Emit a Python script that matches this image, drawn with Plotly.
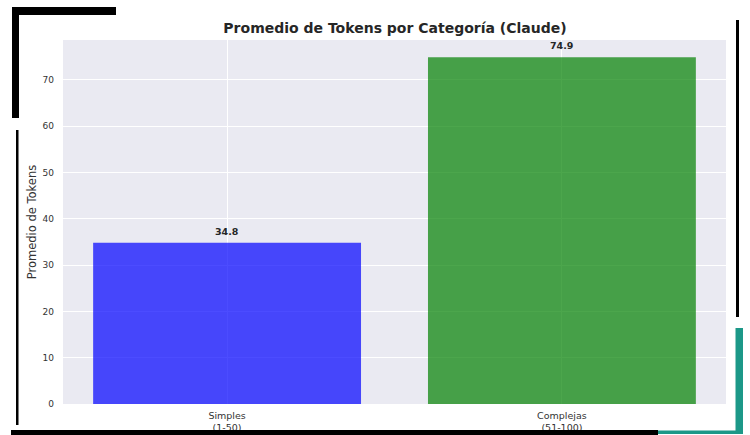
import plotly.graph_objects as go

categories = ["Simples<br>(1-50)", "Complejas<br>(51-100)"]
values = [34.8, 74.9]
bar_colors = ["rgba(0,0,255,0.7)", "rgba(0,128,0,0.7)"]
y_ticks = [0, 10, 20, 30, 40, 50, 60, 70]

W, H = 750, 435
L, R, T, B = 63, 24, 40, 31
PW, PH = W - L - R, H - T - B

def px(x):
    return (x - L) / PW

def py(y):
    return (H - B - y) / PH

FONT = "DejaVu Sans"

fig = go.Figure()
fig.add_trace(go.Bar(
    x=[0, 1], y=values, width=0.8,
    marker=dict(color=bar_colors, line=dict(width=0)),
    hoverinfo="skip",
))

for i, v in enumerate(values):
    fig.add_annotation(x=i, y=v, text=f"<b>{v:.1f}</b>", showarrow=False,
                       yanchor="bottom", yshift=4,
                       font=dict(family=FONT, size=9.5, color="#262626"))

shapes = []
def rect(x0, y0, x1, y1, color):
    shapes.append(dict(type="rect", xref="paper", yref="paper",
                       x0=px(x0), x1=px(x1), y0=py(y1), y1=py(y0),
                       fillcolor=color, line=dict(width=0), layer="above"))

# screenshot frame decorations
rect(12, 7, 116, 15, "black")
rect(12, 7, 19, 118, "black")
rect(16, 130, 18.5, 425, "black")
rect(736, 20, 739, 317, "black")
rect(11, 430, 658, 435, "black")
rect(735.5, 328, 743, 434, "#1C9888")
rect(658, 430.5, 743, 434, "#1C9888")

fig.update_layout(
    width=W, height=H,
    margin=dict(l=L, r=R, t=T, b=B, pad=0, autoexpand=False),
    paper_bgcolor="white",
    plot_bgcolor="#EAEAF2",
    showlegend=False,
    title=dict(text="<b>Promedio de Tokens por Categoría (Claude)</b>",
               xref="container", x=395 / W, xanchor="center",
               yref="container", y=1 - 28 / H, yanchor="middle",
               font=dict(family=FONT, size=14, color="#262626")),
    font=dict(family=FONT, color="#333333"),
    shapes=shapes,
)
fig.update_xaxes(
    range=[-0.49, 1.49], tickmode="array", tickvals=[0, 1], ticktext=categories,
    showgrid=True, gridcolor="white", gridwidth=1, zeroline=False,
    showline=False, ticks="", ticklabelstandoff=4,
    tickfont=dict(family=FONT, size=9.5, color="#333333"),
)
fig.update_yaxes(
    range=[0, 78.6], tickmode="array", tickvals=y_ticks,
    showgrid=True, gridcolor="white", gridwidth=1, zeroline=False,
    showline=False, ticks="", ticklabelstandoff=8,
    tickfont=dict(family=FONT, size=9, color="#333333"),
    title=dict(text="Promedio de Tokens", standoff=3,
               font=dict(family=FONT, size=11.5, color="#333333")),
)

fig.write_html("out.html", config={"displayModeBar": False},
               post_script="document.body.style.margin='0px';document.body.style.overflow='hidden';")
